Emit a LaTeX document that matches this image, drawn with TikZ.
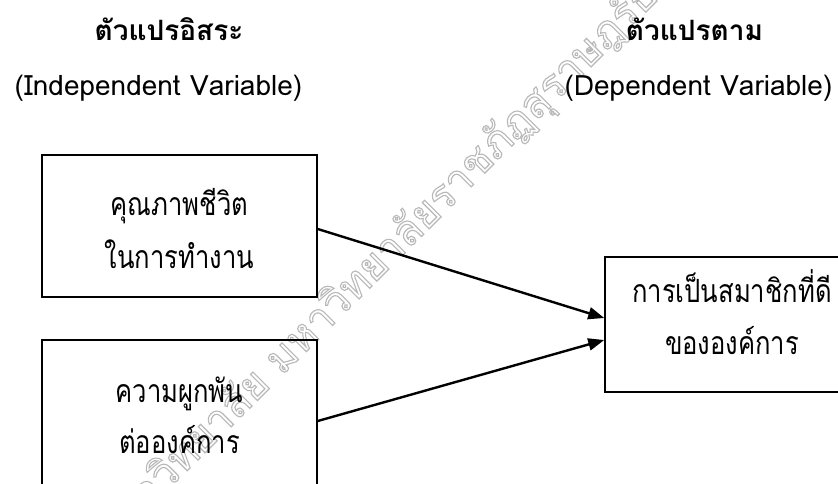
\documentclass[tikz,border=0pt]{standalone}
\usepackage{fontspec}
\setmainfont{Loma}[Script=Thai]
\newfontfamily\thaifont[Script=Thai]{Loma}
\newfontfamily\thaibox[Script=Thai,FakeStretch=0.8]{Loma}
\newcommand{\boxfont}{\thaibox\fontsize{32}{34}\selectfont}
\newcommand{\headfont}{\thaifont\bfseries\fontsize{28}{30}\selectfont}
\newcommand{\latfont}{\thaifont\fontsize{28}{30}\selectfont}
\newcommand{\wmfont}{\thaifont\fontsize{42}{44}\selectfont}
\newcommand{\outlinetext}[1]{\special{pdf:literal direct 1 Tr 1.1 w}#1\special{pdf:literal direct 0 Tr}}
\usetikzlibrary{arrows.meta,calc}
\begin{document}
\begin{tikzpicture}[x=1pt,y=-1pt,
  box/.style={draw=black,line width=1.5pt,inner sep=0pt},
  txt/.style={anchor=base,font=\boxfont,inner sep=0pt},
  head/.style={anchor=base,font=\headfont,inner sep=0pt},
  headlat/.style={anchor=base,font=\latfont,inner sep=0pt},
  arr/.style={line width=2.4pt,-{Triangle[length=16pt,width=12pt]}},
  wm/.style={anchor=base west,font=\wmfont,text=black!28,inner sep=0pt}]
\useasboundingbox (0,0) rectangle (838,483);
\clip (0,0) rectangle (838,483);
\fill[white] (0,0) rectangle (838,483);
% watermark
\node[wm,rotate=45] (wmk) at (110,548) {\outlinetext{มหาวิทยาลัย มหาวิทยาลัยราชภัฏสุราษฎร์ธานี}};
% boxes
\node[box,minimum width=275pt,minimum height=142pt] (b1) at (179.5,226) {};
\node[box,minimum width=275pt,minimum height=150pt] (b2) at (179.5,415) {};
\node[box,minimum width=254pt,minimum height=135pt] (b3) at (732,324.5) {};
% box texts
\node[txt] (t1a) at (179.5,215) {คุณภาพชีวิต};
\node[txt] (t1b) at (179.5,268) {ในการทำงาน};
\node[txt] (t2a) at (179.5,402) {ความผูกพัน};
\node[txt] (t2b) at (179.5,453) {ต่อองค์การ};
\node[txt] (t3a) at (732,302) {การเป็นสมาชิกที่ดี};
\node[txt] (t3b) at (732,354) {ขององค์การ};
% headers
\node[head] (h1) at (169,40) {ตัวแปรอิสระ};
\node[headlat] (h2) at (158.5,95) {(Independent Variable)};
\node[head] (h3) at (694.5,40) {ตัวแปรตาม};
\node[headlat] (h4) at (698.5,95) {(Dependent Variable)};
% arrows
\coordinate (s1) at ($(b1.east)+(0,3)$);
\coordinate (e1) at ($(b3.west)+(0,-6.5)$);
\coordinate (s2) at ($(b2.east)+(0,6)$);
\coordinate (e2) at ($(b3.west)+(0,15.5)$);
\draw[arr] (s1) -- (e1);
\draw[arr] (s2) -- (e2);
\end{tikzpicture}
\end{document}
